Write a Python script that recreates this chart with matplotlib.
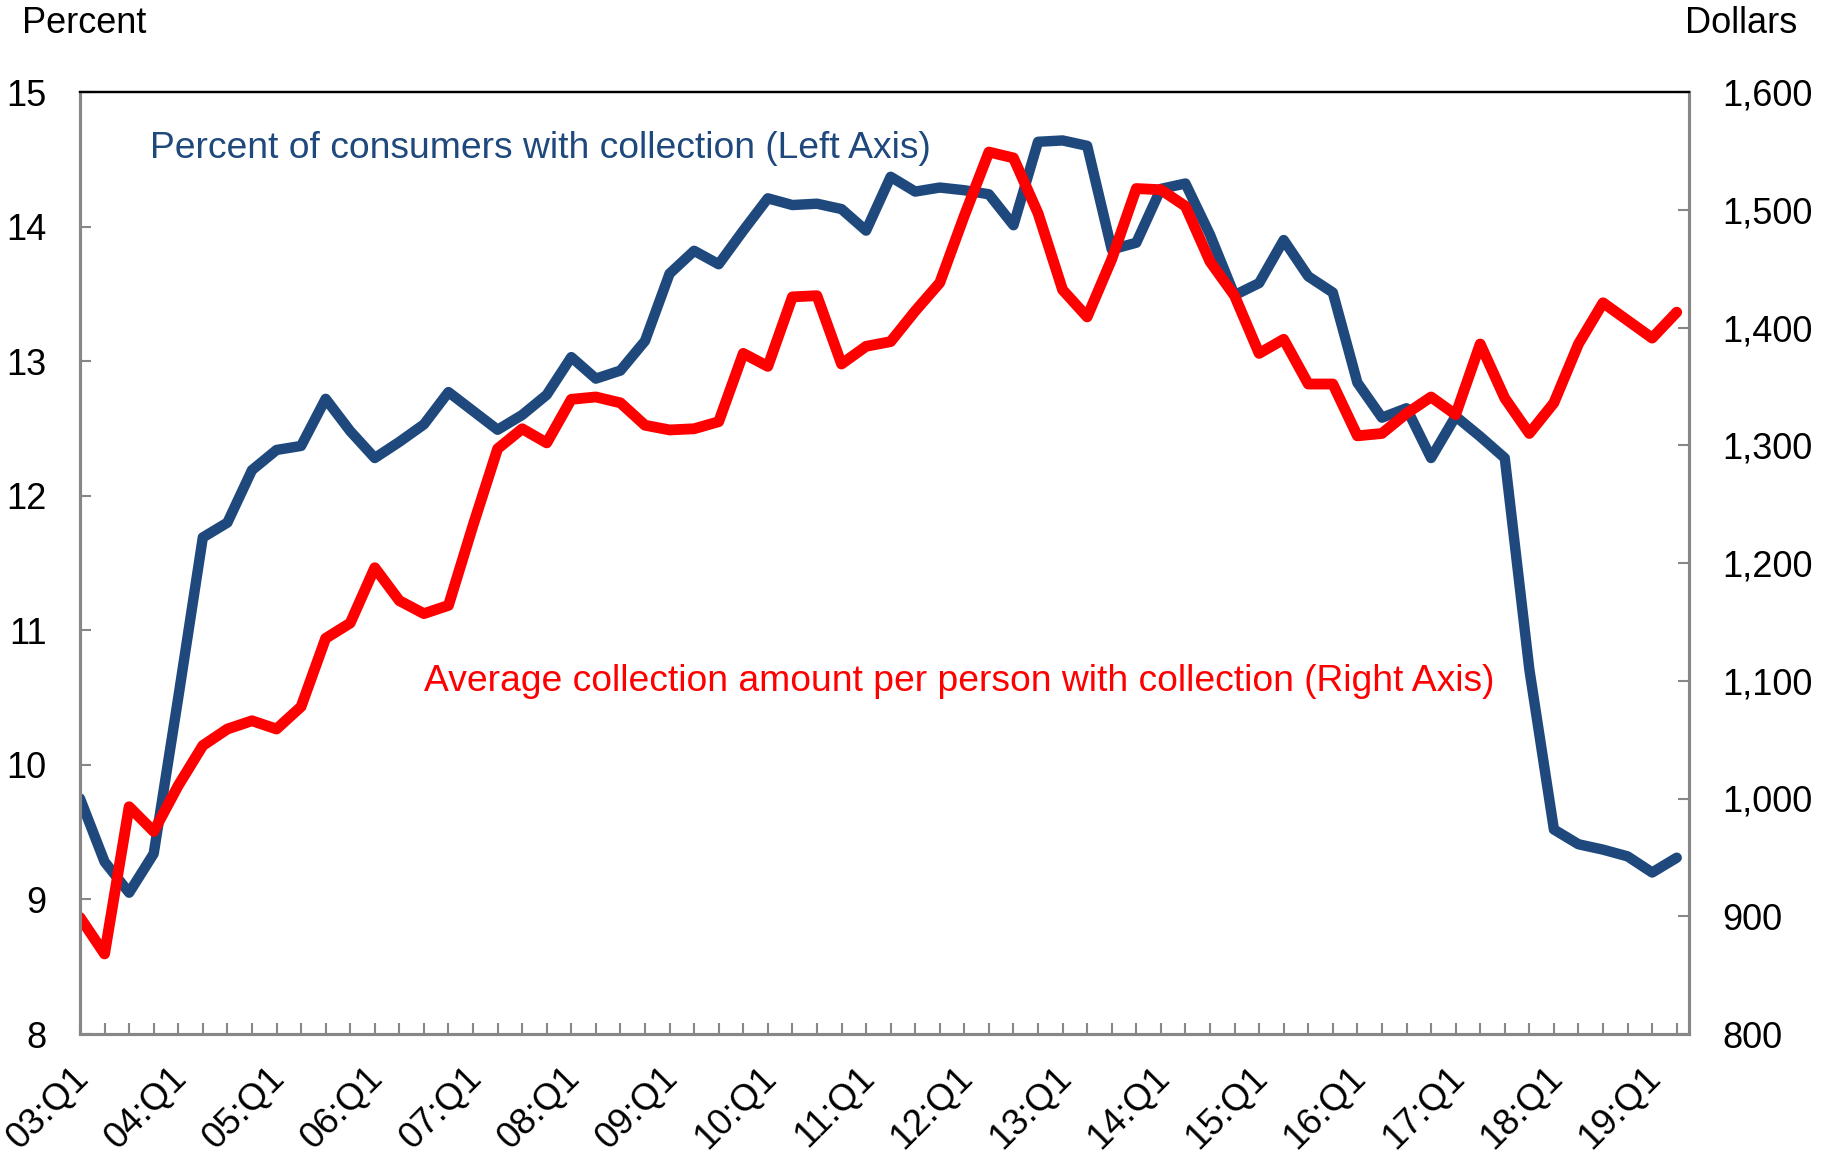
import matplotlib
matplotlib.use("Agg")
import matplotlib.pyplot as plt
import matplotlib.transforms as mtransforms
import matplotlib.ticker as mticker
import numpy as np

# Quarterly data, 03:Q1 through 19:Q2
pct_with_collection = [
    9.75, 9.28, 9.05, 9.34, 10.50, 11.69, 11.80, 12.19, 12.34, 12.37,
    12.72, 12.48, 12.28, 12.40, 12.53, 12.77, 12.63, 12.49, 12.60, 12.75,
    13.03, 12.87, 12.93, 13.15, 13.65, 13.82, 13.72, 13.97, 14.21, 14.16,
    14.17, 14.13, 13.97, 14.37, 14.26, 14.29, 14.27, 14.24, 14.01, 14.63,
    14.64, 14.60, 13.83, 13.88, 14.28, 14.32, 13.94, 13.49, 13.58, 13.90,
    13.63, 13.51, 12.84, 12.58, 12.65, 12.28, 12.59, 12.44, 12.28, 10.71,
    9.52, 9.41, 9.37, 9.32, 9.20, 9.31,
]
avg_collection_amt = [
    899, 868, 993, 972, 1011, 1045, 1059, 1066, 1059, 1078,
    1136, 1149, 1196, 1168, 1157, 1164, 1232, 1297, 1314, 1302,
    1339, 1341, 1336, 1317, 1313, 1314, 1320, 1378, 1367, 1426,
    1427, 1369, 1384, 1388, 1414, 1438, 1495, 1549, 1544, 1497,
    1432, 1409, 1458, 1518, 1517, 1503, 1456, 1427, 1378, 1390,
    1352, 1352, 1308, 1310, 1327, 1341, 1326, 1386, 1340, 1310,
    1336, 1386, 1421, 1406, 1391, 1413,
]
year_labels = [
    "03:Q1", "04:Q1", "05:Q1", "06:Q1", "07:Q1", "08:Q1", "09:Q1", "10:Q1",
    "11:Q1", "12:Q1", "13:Q1", "14:Q1", "15:Q1", "16:Q1", "17:Q1", "18:Q1",
    "19:Q1",
]

BLUE = "#1F497D"
RED = "#FF0000"
GRAY = "#878787"

plt.rcParams["font.family"] = ["Liberation Sans", "DejaVu Sans"]

W, H = 1833, 1155
fig = plt.figure(figsize=(W / 100, H / 100), dpi=100)

# plot area in pixels: x 80..1689, y 92..1034
left, right, top, bottom = 80, 1689, 92, 1034
ax = fig.add_axes([left / W, 1 - bottom / H, (right - left) / W, (bottom - top) / H])
ax2 = ax.twinx()

x = np.arange(len(pct_with_collection))
ax.plot(x, pct_with_collection, color=BLUE, lw=7.5,
        solid_joinstyle="round", solid_capstyle="round")
ax2.plot(x, avg_collection_amt, color=RED, lw=7.8,
         solid_joinstyle="round", solid_capstyle="round")

ax.set_xlim(0, len(x) - 0.5)
ax.set_ylim(8, 15)
ax2.set_ylim(800, 1600)

ax.set_xticks(x)
ax.set_xticklabels([year_labels[i // 4] if i % 4 == 0 else "" for i in x])
ax.set_yticks(np.arange(8, 16))
ax2.set_yticks(np.arange(800, 1700, 100))
ax2.yaxis.set_major_formatter(mticker.FuncFormatter(lambda v, p: f"{v:,.0f}"))

for a in (ax, ax2):
    a.tick_params(direction="in", length=8, width=1.5, color=GRAY,
                  labelsize=26, pad=24)
    for s in ("left", "bottom", "right"):
        a.spines[s].set_color(GRAY)
        a.spines[s].set_linewidth(2.2)
    a.spines["top"].set_color("black")
    a.spines["top"].set_linewidth(1.6)
ax.tick_params(axis="x", labelsize=26.5, pad=32.4)

# rotated quarter labels: baseline end sits right of and below the tick
offset = mtransforms.ScaledTranslation(10 / 100, 0, fig.dpi_scale_trans)
for lbl in ax.get_xticklabels():
    lbl.set_rotation(45)
    lbl.set_rotation_mode("anchor")
    lbl.set_ha("right")
    lbl.set_va("baseline")
    lbl.set_transform(lbl.get_transform() + offset)

fig.text(22 / W, 1 - 33 / H, "Percent", fontsize=26, va="baseline", ha="left")
fig.text(1685 / W, 1 - 33 / H, "Dollars", fontsize=26, va="baseline", ha="left")

fig.text(150 / W, 1 - 158 / H, "Percent of consumers with collection (Left Axis)",
         fontsize=26.8, color=BLUE, va="baseline", ha="left")
fig.text(424 / W, 1 - 691 / H,
         "Average collection amount per person with collection (Right Axis)",
         fontsize=26.8, color=RED, va="baseline", ha="left")

fig.savefig("out.png", dpi=100)
